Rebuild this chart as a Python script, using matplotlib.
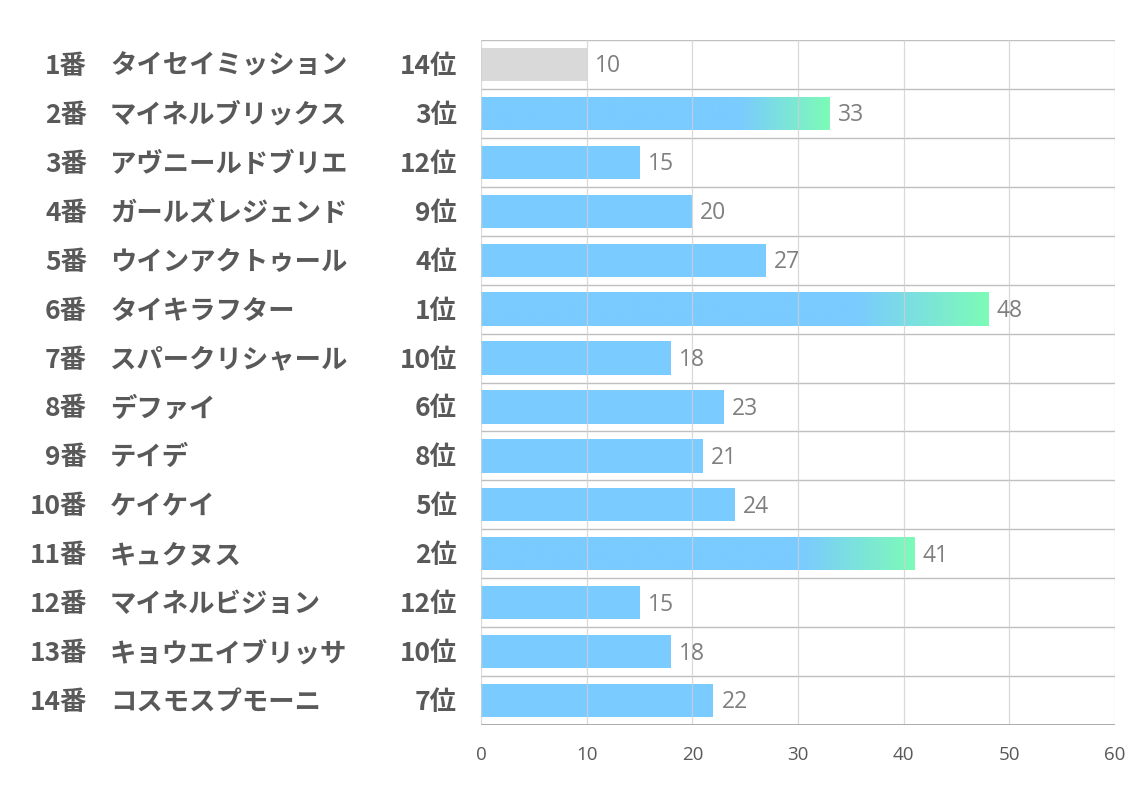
import matplotlib
matplotlib.use("Agg")
import matplotlib.pyplot as plt
import numpy as np
from matplotlib.colors import LinearSegmentedColormap, to_rgb

plt.rcParams['font.family'] = ['Noto Sans CJK JP', 'DejaVu Sans']

numbers = ["1番", "2番", "3番", "4番", "5番", "6番", "7番", "8番", "9番", "10番", "11番", "12番", "13番", "14番"]
names = ["タイセイミッション", "マイネルブリックス", "アヴニールドブリエ", "ガールズレジェンド",
         "ウインアクトゥール", "タイキラフター", "スパークリシャール", "デファイ", "テイデ",
         "ケイケイ", "キュクヌス", "マイネルビジョン", "キョウエイブリッサ", "コスモスプモーニ"]
ranks = ["14位", "3位", "12位", "9位", "4位", "1位", "10位", "6位", "8位", "5位", "2位", "12位", "10位", "7位"]
values = [10, 33, 15, 20, 27, 48, 18, 23, 21, 24, 41, 15, 18, 22]

BLUE = "#7ACBFF"
GREEN = "#7DFBB7"
GRAY = "#D9D9D9"
TXT = "#595959"

W, H = 1134, 793
fig = plt.figure(figsize=(W / 100, H / 100), dpi=100)
ax = fig.add_axes([481 / W, 1 - 725 / H, (1115 - 481) / W, (725 - 40) / H])

n = len(values)
ax.set_xlim(0, 60)
ax.set_ylim(n - 0.5, -0.5)

bh = 0.68
cmap = LinearSegmentedColormap.from_list("bg", [to_rgb(BLUE), to_rgb(GREEN)])
for i, (v, r) in enumerate(zip(values, ranks)):
    rn = int(r.replace("位", ""))
    if rn == 14:
        ax.barh(i, v, height=bh, color=GRAY, zorder=2)
    elif rn <= 3:
        patch = ax.barh(i, v, height=bh, color=BLUE, zorder=2)[0]
        xs = np.linspace(0, v, 400)
        start = 0.74 * v
        t = np.clip((xs - start) / (v - start), 0, 1)
        img = cmap(t)[np.newaxis, :, :]
        im = ax.imshow(img, extent=[0, v, i + bh / 2, i - bh / 2], aspect='auto',
                       zorder=2.1, interpolation='bilinear')
        im.set_clip_path(patch)
    else:
        ax.barh(i, v, height=bh, color=BLUE, zorder=2)
    ax.text(v + 0.75, i + 0.04, str(v), va='center', ha='left', fontsize=16.5, color="#7F7F7F",
            family=['Open Sans', 'DejaVu Sans'])

ax.set_xlim(0, 60)
ax.set_ylim(n - 0.5, -0.5)

# grid
for gx in range(0, 61, 10):
    ax.axvline(gx, color="#D0D0D0", lw=0.9, zorder=2.5, alpha=0.8)
for k in range(n):
    ax.axhline(k - 0.5, color="#BFBFBF", lw=1.0, zorder=1)
ax.axhline(n - 0.5, color="#A6A6A6", lw=1.3, zorder=3)

for s in ax.spines.values():
    s.set_visible(False)
ax.set_yticks([])
ax.set_xticks(range(0, 61, 10))
ax.tick_params(axis='x', length=0, pad=15, labelsize=13.5, labelcolor="#595959")
for lab in ax.get_xticklabels():
    lab.set_family(['Open Sans', 'DejaVu Sans'])

# left labels
fs = 19
for i in range(n):
    yf = 1 - (42 + (i + 0.5) * (685 / n)) / H
    fig.text(87 / W, yf, numbers[i], ha='right', va='center', fontsize=fs, fontweight='bold', color=TXT)
    fig.text(110 / W, yf, names[i], ha='left', va='center', fontsize=fs, fontweight='bold', color=TXT)
    fig.text(457 / W, yf, ranks[i], ha='right', va='center', fontsize=fs, fontweight='bold', color=TXT)

fig.savefig("out.png", dpi=100, facecolor="white")
